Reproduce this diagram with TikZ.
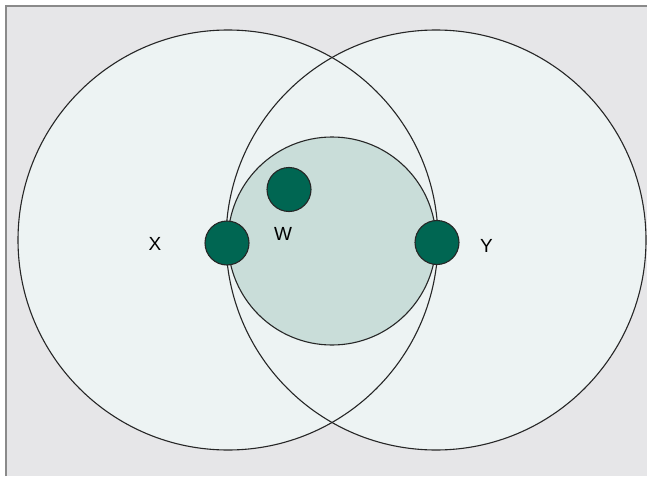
\documentclass[tikz,border=0pt]{standalone}
\usepackage{fontspec}
\setmainfont{Liberation Sans}
\definecolor{bgc}{HTML}{E6E6E8}
\definecolor{framec}{HTML}{8A8A8A}
\definecolor{bigc}{HTML}{EDF3F3}
\definecolor{midc}{HTML}{C9DDD9}
\definecolor{dotc}{HTML}{006652}
\begin{document}
\begin{tikzpicture}[x=1pt,y=-1pt,
  bigcircle/.style={circle,minimum size=420pt,inner sep=0pt},
  outline/.style={draw=black!85,line width=1.1pt},
  dot/.style={circle,fill=dotc,draw=black!85,line width=1.1pt,minimum size=44pt,inner sep=0pt},
  lbl/.style={font=\fontsize{19}{19}\selectfont,inner sep=0pt}]
\useasboundingbox (0,0) rectangle (647,476);
\fill[white] (0,0) rectangle (647,476);
\fill[bgc] (6,6) rectangle (647,476);
\draw[framec,line width=1.6pt] (6,476) -- (6,6) -- (647,6);
% big circles
\node[bigcircle,fill=bigc] (L) at (228,240) {};
\node[bigcircle,fill=bigc] (R) at (436,240) {};
\node[bigcircle,outline] at (L) {};
\node[bigcircle,outline] at (R) {};
% middle circle
\node[circle,minimum size=208pt,inner sep=0pt,fill=midc,outline] (M) at (332,241) {};
% dots
\node[dot] (X) at (227,243) {};
\node[dot] (Y) at (437,242.5) {};
\node[dot] (W) at (289,189.5) {};
% labels
\node[lbl] (lx) at (155,244) {X};
\node[lbl] (lw) at (283,233.5) {W};
\node[lbl] (ly) at (486.5,245.5) {Y};
\end{tikzpicture}
\end{document}
